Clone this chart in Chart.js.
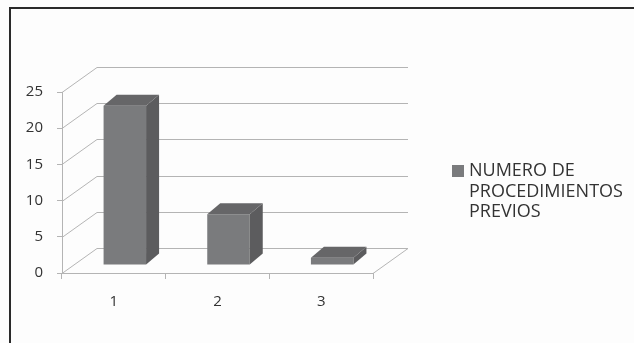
<!DOCTYPE html>
<html>
<head>
<meta charset="utf-8">
<script src="https://cdn.jsdelivr.net/npm/chart.js@4"></script>
<style>
  html, body { margin: 0; padding: 0; background: #fdfdfd; }
  #wrap { position: relative; width: 634px; height: 343px; overflow: hidden; }
  #frame { position: absolute; left: 9px; top: 7px; width: 640px; height: 350px;
           border-top: 2px solid #2a2a2a; border-left: 2px solid #2a2a2a; }
  canvas { position: absolute; left: 0; top: 0; }
  #legend { position: absolute; left: 452px; top: 159px; font-family: "Open Sans", sans-serif;
            font-size: 18px; line-height: 20.5px; color: #333; }
  #legend .box { position: absolute; left: 0; top: 6px; width: 12px; height: 12px; background: #7a7b7d; }
  #legend .txt { margin-left: 17px; white-space: pre; }
</style>
</head>
<body>
<div id="wrap">
  <div id="frame"></div>
  <canvas id="chart" width="634" height="343"></canvas>
  <div id="legend"></div>
</div>
<script>
// data
const categories = ["1", "2", "3"];
const seriesName = "NUMERO DE PROCEDIMIENTOS PREVIOS";
const seriesValues = [22, 7, 1];
const yTicks = [0, 5, 10, 15, 20, 25];

// 3d look
const DEPTH_X = 35, DEPTH_Y = 25;   // back wall offset
const BAR_X = 11, BAR_Y = 8;        // where the bars sit in depth
const BAR_DX = 13, BAR_DY = 11;     // bar thickness
const gridColor = "#b4b4b4";

const fake3d = {
  id: "fake3d",
  beforeDatasetsDraw(chart) {
    const c = chart.ctx, y = chart.scales.y, x = chart.scales.x;
    const left = x.left, right = x.right;
    c.save();
    c.strokeStyle = gridColor;
    c.lineWidth = 1;
    yTicks.forEach(v => {
      const py = Math.round(y.getPixelForValue(v)) + 0.5;
      c.beginPath();
      c.moveTo(left, py);
      c.lineTo(left + DEPTH_X, py - DEPTH_Y);
      c.lineTo(right + DEPTH_X, py - DEPTH_Y);
      c.stroke();
    });
    const p0 = Math.round(y.getPixelForValue(0)) + 0.5;
    c.beginPath();
    c.moveTo(right, p0);
    c.lineTo(right + DEPTH_X, p0 - DEPTH_Y);
    c.stroke();
    // bars get pushed back a bit
    c.translate(BAR_X, -BAR_Y);
  },
  afterDatasetsDraw(chart) {
    const c = chart.ctx;
    const meta = chart.getDatasetMeta(0);
    meta.data.forEach(bar => {
      const p = bar.getProps(["x", "y", "base", "width"], true);
      const l = p.x - p.width / 2, r = p.x + p.width / 2;
      c.fillStyle = "#5c5c5e";
      c.beginPath();
      c.moveTo(r, p.y);
      c.lineTo(r + BAR_DX, p.y - BAR_DY);
      c.lineTo(r + BAR_DX, p.base - BAR_DY);
      c.lineTo(r, p.base);
      c.closePath();
      c.fill();
      c.fillStyle = "#666668";
      c.beginPath();
      c.moveTo(l, p.y);
      c.lineTo(l + BAR_DX, p.y - BAR_DY);
      c.lineTo(r + BAR_DX, p.y - BAR_DY);
      c.lineTo(r, p.y);
      c.closePath();
      c.fill();
    });
    c.restore();
  }
};

new Chart(document.getElementById("chart"), {
  type: "bar",
  data: {
    labels: categories,
    datasets: [{
      label: seriesName,
      data: seriesValues,
      backgroundColor: "#7a7b7d",
      borderWidth: 0,
      categoryPercentage: 1,
      barPercentage: 0.41
    }]
  },
  options: {
    responsive: false,
    animation: false,
    layout: { padding: { left: 0, top: 92, right: 261, bottom: 30 } },
    plugins: { legend: { display: false }, tooltip: { enabled: false } },
    scales: {
      x: {
        afterFit: s => { s.height = 40; },
        grid: { drawOnChartArea: false, offset: true, tickLength: 6, color: gridColor },
        border: { color: gridColor },
        ticks: { color: "#333", padding: 14, font: { family: "Open Sans", size: 15 } }
      },
      y: {
        min: 0, max: 25,
        afterFit: s => { s.width = 62; },
        grid: { drawOnChartArea: false, tickLength: 5, color: gridColor },
        border: { color: gridColor },
        ticks: { stepSize: 5, color: "#333", padding: 14, font: { family: "Open Sans", size: 15 } }
      }
    }
  },
  plugins: [fake3d]
});

document.getElementById("legend").innerHTML =
  '<div class="box"></div><div class="txt">' + seriesName.replace("DE ", "DE\n").replace("MIENTOS ", "MIENTOS\n") + "</div>";
</script>
</body>
</html>
